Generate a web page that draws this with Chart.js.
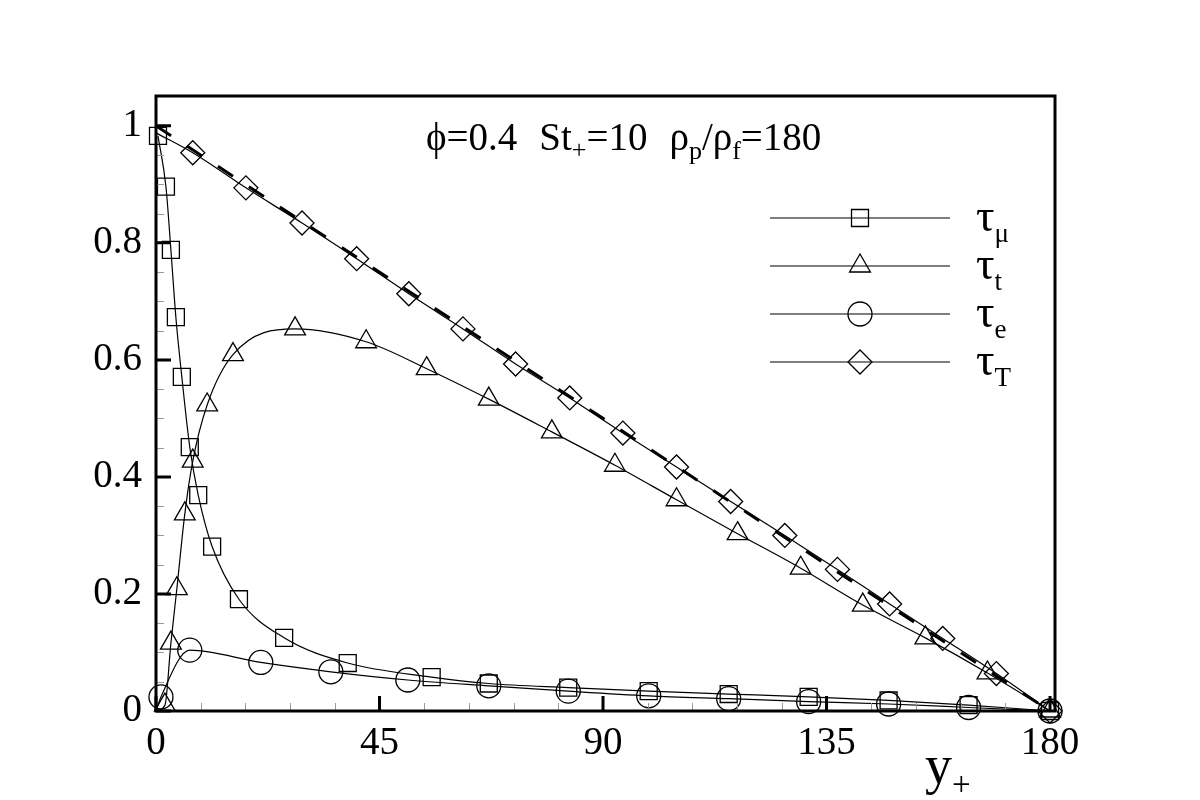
<!DOCTYPE html>
<html lang="en">
<head>
<meta charset="UTF-8">
<title>Shear stress budget</title>
<script src="https://cdn.jsdelivr.net/npm/chart.js@4.4.0/dist/chart.umd.min.js"></script>
<style>
  body { margin: 0; background: #fff; }
  #wrap { width: 1200px; height: 800px; }
</style>
</head>
<body>
<div id="wrap"><canvas id="chart" width="1200" height="800"></canvas></div>
<script>
// values (x = y+, y = stress)
const muX = [0.4, 2.0, 3.0, 4.0, 5.2, 6.8, 8.5, 11.3, 16.7, 25.8, 38.6, 55.5, 67.0, 83.0, 99.2, 115.3, 131.4, 147.5, 163.6, 180];
const muY = [0.983, 0.896, 0.788, 0.673, 0.571, 0.451, 0.369, 0.281, 0.191, 0.125, 0.082, 0.058, 0.047, 0.040, 0.034, 0.029, 0.024, 0.018, 0.010, 0];

const turbX = [0, 1.8, 3.0, 4.2, 5.8, 7.4, 10.3, 15.5, 28.0, 42.3, 54.5, 67.0, 79.7, 92.4, 104.8, 117.1, 129.8, 142.3, 154.9, 167.4, 180];
const turbY = [0, 0.010, 0.116, 0.209, 0.337, 0.427, 0.523, 0.609, 0.653, 0.631, 0.585, 0.533, 0.477, 0.420, 0.361, 0.303, 0.244, 0.181, 0.125, 0.065, 0];

const partX = [0, 1.0, 6.8, 21.1, 35.2, 50.7, 67.0, 83.0, 99.2, 115.3, 131.4, 147.5, 163.6, 180];
const partY = [0, 0.024, 0.104, 0.083, 0.067, 0.053, 0.043, 0.034, 0.026, 0.021, 0.016, 0.012, 0.006, 0];

const totX = [0, 7.4, 18.1, 29.4, 40.4, 50.9, 61.8, 72.4, 83.3, 94.0, 104.8, 115.7, 126.6, 137.2, 147.7, 158.4, 169.2, 180];
const totY = [0.988, 0.954, 0.894, 0.834, 0.773, 0.713, 0.653, 0.593, 0.535, 0.475, 0.417, 0.358, 0.300, 0.242, 0.183, 0.124, 0.064, 0];

// linear total stress 1 - y+/Re_tau
const refX = [0, 180];
const refY = [1, 0];

const xTicks = [0, 45, 90, 135, 180];
const yTicks = [0, 0.2, 0.4, 0.6, 0.8, 1];
const yTickLabels = ['0', '0.2', '0.4', '0.6', '0.8', '1'];

const legendSubs = ['\u03bc', 't', 'e', 'T'];
const legendStyles = ['rect', 'triangle', 'circle', 'rectRot'];

const FONT = '"Liberation Serif", "Times New Roman", serif';
const pts = (xs, ys) => xs.map((x, i) => ({ x: x, y: ys[i] }));

function series(xs, ys, style) {
  return {
    data: pts(xs, ys),
    borderColor: '#000',
    borderWidth: 1.2,
    pointStyle: style,
    pointRadius: c => (c.raw && c.raw.x === 0 ? 0 : 12),
    pointBorderWidth: 1.3,
    pointBorderColor: '#000',
    pointBackgroundColor: 'rgba(0,0,0,0)',
    cubicInterpolationMode: 'monotone',
    clip: false
  };
}

function marker(ctx, style, x, y, r) {
  ctx.beginPath();
  if (style === 'rect') {
    const s = Math.SQRT1_2 * r;
    ctx.rect(x - s, y - s, 2 * s, 2 * s);
  } else if (style === 'triangle') {
    let a = 0;
    ctx.moveTo(x + Math.sin(a) * r, y - Math.cos(a) * r);
    a += 2 * Math.PI / 3;
    ctx.lineTo(x + Math.sin(a) * r, y - Math.cos(a) * r);
    a += 2 * Math.PI / 3;
    ctx.lineTo(x + Math.sin(a) * r, y - Math.cos(a) * r);
    ctx.closePath();
  } else if (style === 'circle') {
    ctx.arc(x, y, r, 0, Math.PI * 2);
  } else {
    ctx.moveTo(x - r, y); ctx.lineTo(x, y + r); ctx.lineTo(x + r, y); ctx.lineTo(x, y - r);
    ctx.closePath();
  }
  ctx.stroke();
}

function runs(ctx, x, y, parts) {
  parts.forEach(p => {
    if (p.gap) { x += p.gap; return; }
    ctx.font = p.size + 'px ' + FONT;
    ctx.fillText(p.t, x, y + (p.dy || 0));
    x += ctx.measureText(p.t).width;
  });
}

const decor = {
  id: 'decor',
  afterDraw(chart) {
    const ctx = chart.ctx, a = chart.chartArea;
    const sx = chart.scales.x, sy = chart.scales.y;
    ctx.save();
    ctx.lineCap = 'butt';

    // minor ticks
    ctx.strokeStyle = '#999';
    ctx.lineWidth = 1;
    ctx.beginPath();
    for (let v = 9; v < 180; v += 9) {
      if (v % 45 === 0) continue;
      const px = Math.round(sx.getPixelForValue(v)) + 0.5;
      ctx.moveTo(px, a.bottom); ctx.lineTo(px, a.bottom - 8);
    }
    for (let k = 1; k < 21; k++) {
      if (k % 4 === 0) continue;
      const py = Math.round(sy.getPixelForValue(k * 0.05)) + 0.5;
      ctx.moveTo(a.left, py); ctx.lineTo(a.left + 8, py);
    }
    ctx.stroke();

    // major ticks
    ctx.strokeStyle = '#000';
    ctx.lineWidth = 3;
    ctx.beginPath();
    xTicks.forEach(v => {
      const px = sx.getPixelForValue(v);
      ctx.moveTo(px, a.bottom); ctx.lineTo(px, a.bottom - 15);
    });
    yTicks.forEach(v => {
      const py = sy.getPixelForValue(v);
      ctx.moveTo(a.left, py); ctx.lineTo(a.left + 15, py);
    });
    ctx.stroke();

    // frame
    ctx.lineWidth = 3;
    ctx.strokeRect(a.left, a.top, a.right - a.left, a.bottom - a.top);

    // title
    ctx.fillStyle = '#000';
    ctx.textBaseline = 'alphabetic';
    ctx.textAlign = 'left';
    runs(ctx, 426, 150, [
      { t: '\u03d5=0.4', size: 39 }, { gap: 22 },
      { t: 'St', size: 39 }, { t: '+', size: 26, dy: 8 }, { t: '=10', size: 39 }, { gap: 22 },
      { t: '\u03c1', size: 39 }, { t: 'p', size: 26, dy: 9 }, { t: '/\u03c1', size: 39 },
      { t: 'f', size: 26, dy: 9 }, { t: '=180', size: 39 }
    ]);

    // legend
    ctx.strokeStyle = '#000';
    legendSubs.forEach((s, i) => {
      const y = 218 + i * 48;
      ctx.lineWidth = 1.2;
      ctx.beginPath(); ctx.moveTo(770, y); ctx.lineTo(950, y); ctx.stroke();
      ctx.lineWidth = 1.3;
      marker(ctx, legendStyles[i], 860, y, 12);
      runs(ctx, 976, y + 13, [{ t: '\u03c4', size: 46 }, { t: s, size: 27, dy: 11 }]);
    });

    // axis title
    runs(ctx, 925, 783, [{ t: 'y', size: 54 }, { t: '+', size: 33, dy: 12 }]);
    ctx.restore();
  }
};

new Chart(document.getElementById('chart'), {
  type: 'line',
  data: {
    datasets: [
      series(muX, muY, 'rect'),
      series(turbX, turbY, 'triangle'),
      series(partX, partY, 'circle'),
      series(totX, totY, 'rectRot'),
      {
        data: pts(refX, refY),
        borderColor: '#000',
        borderWidth: 3,
        borderDash: [18, 19],
        pointRadius: 0,
        clip: false
      }
    ]
  },
  options: {
    responsive: false,
    animation: false,
    events: [],
    layout: { padding: { top: 96, right: 145, left: 0, bottom: 0 } },
    plugins: { legend: { display: false }, tooltip: { enabled: false } },
    scales: {
      x: {
        type: 'linear',
        min: 0,
        max: 181,
        grid: { display: false, drawTicks: false },
        border: { display: false },
        afterBuildTicks: s => { s.ticks = xTicks.map(v => ({ value: v })); },
        afterFit: s => { s.height = 89; s.paddingLeft = 0; s.paddingRight = 0; },
        ticks: { color: '#000', padding: 9, maxRotation: 0, font: { family: FONT, size: 39 } }
      },
      y: {
        type: 'linear',
        min: 0,
        max: 1.051,
        grid: { display: false, drawTicks: false },
        border: { display: false },
        afterBuildTicks: s => { s.ticks = yTicks.map(v => ({ value: v })); },
        afterFit: s => { s.width = 156; s.paddingTop = 0; s.paddingBottom = 0; },
        ticks: {
          color: '#000', padding: 14, font: { family: FONT, size: 39 },
          callback: (v, i) => yTickLabels[i]
        }
      }
    }
  },
  plugins: [decor]
});
</script>
</body>
</html>
